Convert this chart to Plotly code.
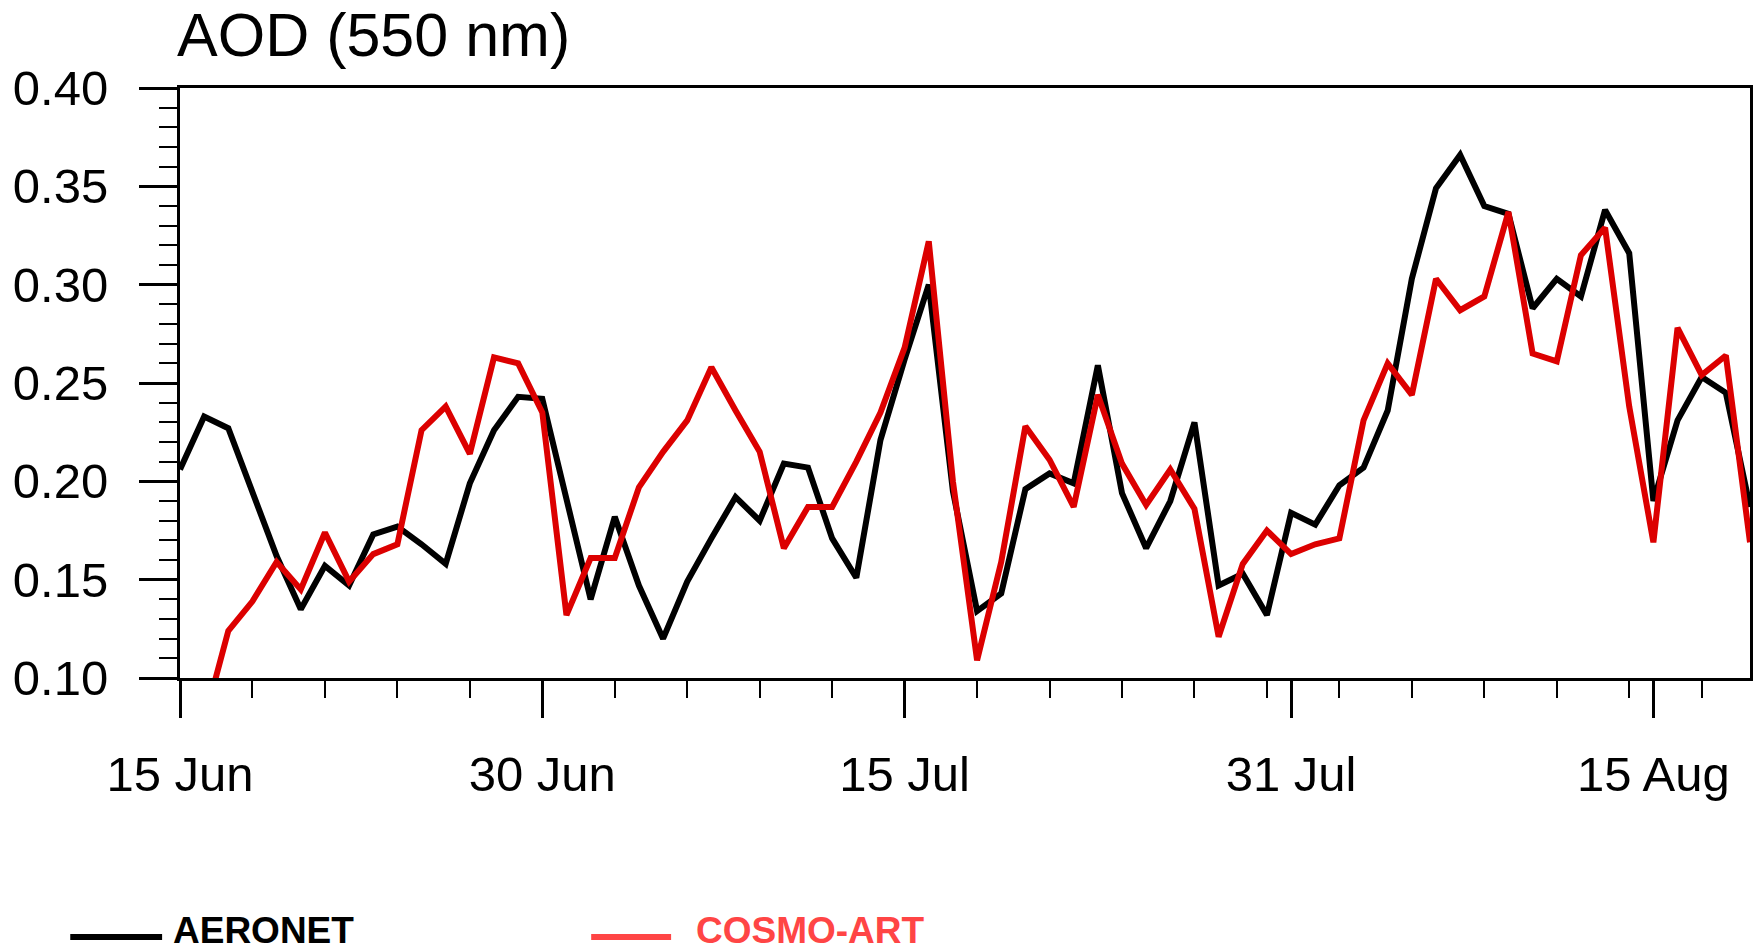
import pandas as pd
import plotly.graph_objects as go

# Daily mean aerosol optical depth at 550 nm, 15 Jun - 19 Aug
dates = pd.date_range("2012-06-15", "2012-08-19", freq="D")

aeronet = [
    0.206, 0.233, 0.227, 0.194, 0.162, 0.135, 0.157, 0.147, 0.173, 0.177,
    0.168, 0.158, 0.199, 0.226, 0.243, 0.242, 0.191, 0.140, 0.182, 0.147,
    0.120, 0.149, 0.171, 0.192, 0.180, 0.209, 0.207, 0.171, 0.151, 0.221,
    0.262, 0.300, 0.195, 0.134, 0.143, 0.196, 0.204, 0.199, 0.259, 0.194,
    0.166, 0.190, 0.230, 0.147, 0.153, 0.132, 0.184, 0.178, 0.198, 0.207,
    0.236, 0.303, 0.349, 0.366, 0.340, 0.336, 0.288, 0.303, 0.294, 0.338,
    0.316, 0.190, 0.231, 0.253, 0.245, 0.187,
]

cosmo_art = [
    None, 0.078, 0.124, 0.139, 0.159, 0.145, 0.174, 0.149, 0.163, 0.168,
    0.226, 0.238, 0.214, 0.263, 0.260, 0.235, 0.132, 0.161, 0.161, 0.197,
    0.215, 0.231, 0.258, 0.236, 0.215, 0.166, 0.187, 0.187, 0.210, 0.235,
    0.268, 0.322, 0.200, 0.109, 0.159, 0.228, 0.211, 0.187, 0.244, 0.209,
    0.188, 0.206, 0.186, 0.121, 0.158, 0.175, 0.163, 0.168, 0.171, 0.231,
    0.260, 0.244, 0.303, 0.287, 0.294, 0.337, 0.265, 0.261, 0.315, 0.329,
    0.238, 0.169, 0.278, 0.254, 0.264, 0.169,
]

tick_dates = ["2012-06-15", "2012-06-30", "2012-07-15", "2012-07-31", "2012-08-15"]
tick_labels = ["15 Jun", "30 Jun", "15 Jul", "31 Jul", "15 Aug"]

series_names = ["AERONET", "COSMO-ART"]
line_colors = ["#000000", "#dc0000"]
legend_colors = ["#000000", "#ff4545"]

FONT = "Liberation Sans, Arial, Helvetica, sans-serif"

fig = go.Figure()
for name, vals, col in zip(series_names, [aeronet, cosmo_art], line_colors):
    fig.add_trace(go.Scatter(
        x=dates, y=vals, mode="lines", name=name,
        line=dict(color=col, width=6), connectgaps=False,
    ))

fig.update_layout(
    width=1761, height=951,
    margin=dict(l=180, r=8, t=88, b=273),
    paper_bgcolor="white", plot_bgcolor="white",
    showlegend=False,
    font=dict(family=FONT, color="black"),
)

fig.update_xaxes(
    range=["2012-06-15", "2012-08-19"],
    tickvals=tick_dates, ticktext=tick_labels,
    ticks="outside", ticklen=37, tickwidth=3, tickcolor="black",
    tickfont=dict(size=49, family=FONT),
    ticklabelstandoff=14,
    minor=dict(dtick=3 * 86400000, tick0="2012-06-15", ticks="outside",
               ticklen=17, tickwidth=2, tickcolor="black", showgrid=False),
    showline=True, linewidth=3, linecolor="black", mirror=True,
    showgrid=False, zeroline=False,
)

fig.update_yaxes(
    range=[0.10, 0.40], dtick=0.05, tick0=0.10, tickformat=".2f",
    ticks="outside", ticklen=38, tickwidth=3, tickcolor="black",
    tickfont=dict(size=49, family=FONT),
    ticklabelstandoff=21,
    minor=dict(dtick=0.01, ticks="outside", ticklen=18, tickwidth=2,
               tickcolor="black", showgrid=False),
    showline=True, linewidth=3, linecolor="black", mirror=True,
    showgrid=False, zeroline=False,
)

# Title
fig.add_annotation(
    text="AOD (550 nm)", xref="paper", yref="paper", x=-0.003, y=1.09,
    xanchor="left", yanchor="middle", showarrow=False,
    font=dict(size=61, family=FONT, color="black"),
)

# Legend keys drawn below the plot
legend_items = [
    (series_names[0], legend_colors[0], -0.0699, -0.0114, -0.0051),
    (series_names[1], legend_colors[1], 0.2619, 0.3128, 0.328),
]
for name, col, x0, x1, xt in legend_items:
    fig.add_shape(type="line", xref="paper", yref="paper",
                  x0=x0, x1=x1, y0=-0.439, y1=-0.439,
                  line=dict(color=col, width=6))
    fig.add_annotation(
        text=f"<b>{name}</b>", xref="paper", yref="paper", x=xt, y=-0.428,
        xanchor="left", yanchor="middle", showarrow=False, borderpad=0,
        font=dict(size=37, family=FONT, color=col),
    )

fig.write_html("out.html")
